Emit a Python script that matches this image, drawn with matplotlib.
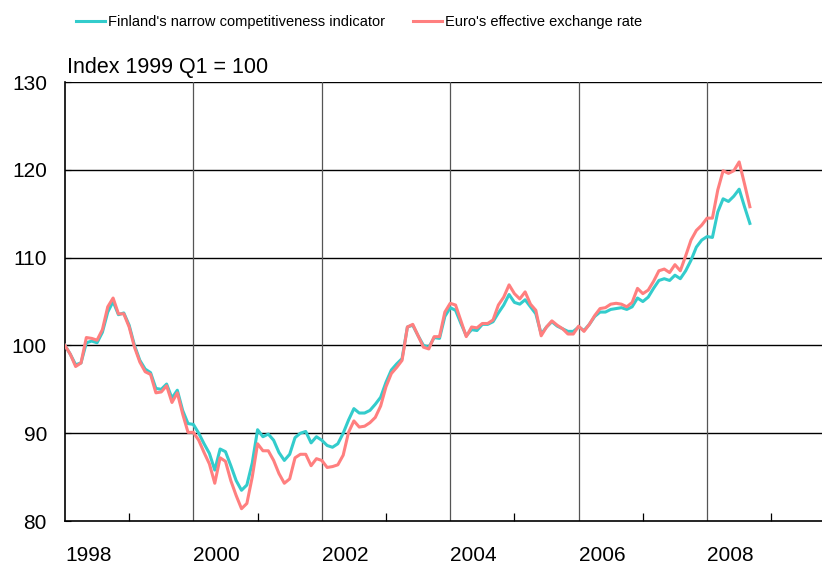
import numpy as np
import matplotlib.pyplot as plt

plt.rcParams['font.family'] = ['Liberation Sans', 'DejaVu Sans']

# Monthly data, Jan 1998 - Sep 2008 (index 1999 Q1 = 100)
finland = [
    100.0, 99.0, 97.8, 98.0, 100.3, 100.5, 100.3, 101.5, 103.8, 105.0, 103.5, 103.7,
    102.3, 100.0, 98.3, 97.3, 96.9, 95.1, 95.0, 95.6, 94.0, 94.9, 92.6, 91.1,
    91.0, 90.0, 88.8, 87.7, 85.8, 88.2, 87.9, 86.3, 84.6, 83.5, 84.1, 86.6,
    90.4, 89.6, 89.9, 89.2, 87.8, 86.9, 87.6, 89.5, 90.0, 90.2, 88.9, 89.6,
    89.2, 88.6, 88.4, 88.8, 90.0, 91.5, 92.8, 92.3, 92.3, 92.6, 93.3, 94.1,
    95.8, 97.2, 97.9, 98.5, 102.1, 102.3, 101.1, 100.0, 99.8, 100.9, 100.8, 103.3,
    104.3, 104.0, 102.5, 101.1, 101.8, 101.7, 102.4, 102.4, 102.7, 103.7, 104.6, 105.8,
    104.9, 104.7, 105.2, 104.4, 103.6, 101.3, 102.1, 102.7, 102.2, 101.9, 101.6, 101.6,
    102.1, 101.7, 102.4, 103.3, 103.8, 103.8, 104.1, 104.2, 104.3, 104.1, 104.4, 105.4,
    105.0, 105.5, 106.5, 107.4, 107.6, 107.4, 108.0, 107.6, 108.5, 109.7, 111.2, 112.0,
    112.4, 112.3, 115.2, 116.7, 116.4, 117.0, 117.8, 115.8, 113.9,
]
euro = [
    100.0, 99.0, 97.6, 98.0, 100.9, 100.8, 100.6, 101.8, 104.4, 105.4, 103.6, 103.6,
    102.1, 99.8, 98.1, 97.0, 96.7, 94.6, 94.7, 95.4, 93.5, 94.6, 92.2, 90.1,
    90.1, 89.2, 87.8, 86.5, 84.3, 87.2, 86.8, 84.6, 82.9, 81.4, 82.0, 85.0,
    88.8, 88.0, 88.0, 86.9, 85.4, 84.3, 84.8, 87.2, 87.6, 87.6, 86.3, 87.1,
    86.9, 86.1, 86.2, 86.4, 87.5, 90.1, 91.4, 90.7, 90.8, 91.2, 91.8, 93.1,
    95.3, 96.8, 97.5, 98.3, 102.1, 102.4, 101.1, 99.8, 99.6, 101.0, 101.0, 103.8,
    104.8, 104.6, 102.8, 101.0, 102.1, 102.0, 102.5, 102.5, 102.9, 104.6, 105.5, 106.9,
    105.9, 105.3, 106.1, 104.7, 104.0, 101.1, 102.1, 102.8, 102.3, 101.9, 101.3, 101.3,
    102.2, 101.6, 102.4, 103.4, 104.2, 104.3, 104.7, 104.8, 104.7, 104.4, 104.9, 106.5,
    105.9, 106.3, 107.3, 108.5, 108.7, 108.3, 109.2, 108.5, 110.2, 112.0, 113.1, 113.7,
    114.5, 114.5, 117.7, 119.9, 119.6, 119.9, 120.9, 118.4, 115.8,
]
labels = ["Finland's narrow competitiveness indicator", "Euro's effective exchange rate"]
year_labels = [1998, 2000, 2002, 2004, 2006, 2008]

t = 1998 + np.arange(len(finland)) / 12.0

fig = plt.figure(figsize=(8.22, 5.66), dpi=100)
ax = fig.add_axes([0.079, 0.0795, 0.921, 0.7755])

ax.plot(t, finland, color='#33CCCC', lw=2.2, label=labels[0], zorder=3)
ax.plot(t, euro, color='#FF7F7F', lw=2.2, label=labels[1], zorder=4)

ax.set_xlim(1998, 2009.79)
ax.set_ylim(80, 130)

# grid
for y in [90, 100, 110, 120, 130]:
    ax.axhline(y, color='black', lw=1.0, zorder=1)
for x in [2000, 2002, 2004, 2006, 2008]:
    ax.axvline(x, color='#555555', lw=0.9, zorder=1)

for s in ['right', 'top']:
    ax.spines[s].set_visible(False)
ax.spines['left'].set_linewidth(1.2)
ax.spines['bottom'].set_linewidth(1.2)

ax.set_yticks([80, 90, 100, 110, 120, 130])
ax.tick_params(axis='y', direction='in', length=4, labelsize=15, pad=13)
ax.set_xticks(year_labels)
ax.set_xticklabels([str(y) for y in year_labels], ha='left')
ax.set_xticks(np.arange(1999, 2010, 2), minor=True)
ax.tick_params(axis='x', which='major', length=0, labelsize=15, pad=18)
ax.tick_params(axis='x', which='minor', direction='in', length=6, width=0.9)

fig.text(0.082, 0.862, 'Index 1999 Q1 = 100', fontsize=15.5, ha='left', va='bottom')

fig.legend(loc='upper left', bbox_to_anchor=(0.0766, 0.997), ncol=2, frameon=False,
           fontsize=10.5, handlelength=2.0, handletextpad=0.2, columnspacing=1.9)

fig.savefig('out.png', dpi=100)
